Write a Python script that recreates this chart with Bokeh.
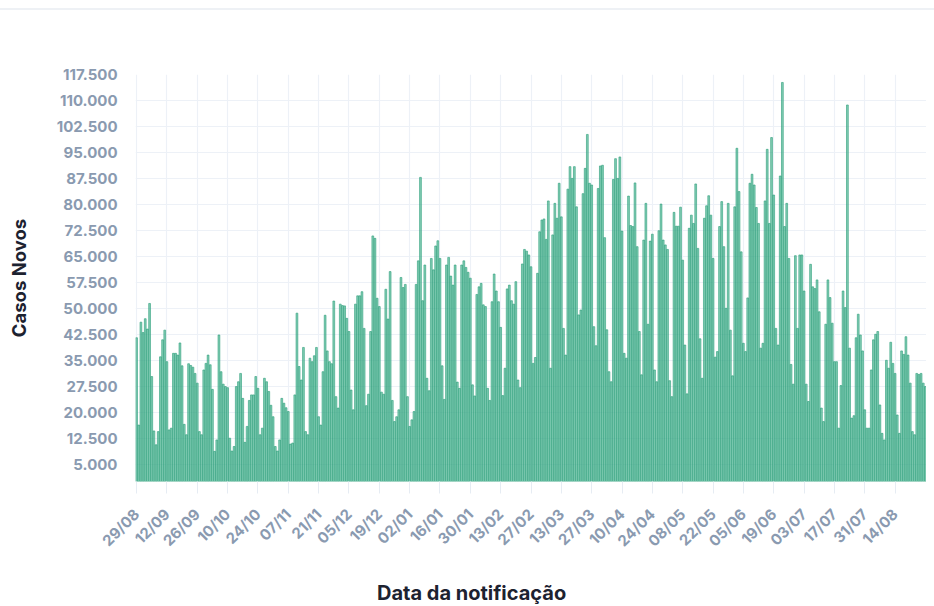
import math
import pandas as pd
from bokeh.plotting import figure
from bokeh.models import FixedTicker, ColumnDataSource, Div
from bokeh.layouts import column
from bokeh.embed import file_html
from bokeh.resources import INLINE

# ---------------- data ----------------
data_inicial = "2020-08-29"

casos_novos = [
    41500, 16300, 46000, 43000, 47000, 44000, 51400, 30300, 14600, 10600,
    14400, 36000, 40900, 43700, 34600, 14900, 15400, 37000, 37000, 36500,
    40000, 33400, 16500, 13500, 34000, 33500, 33000, 31200, 28400, 14400,
    13500, 32200, 34100, 36500, 33700, 26600, 8700, 12000, 42300, 31700,
    28100, 27400, 27100, 12500, 8800, 10100, 27400, 28800, 31200, 24000,
    11300, 15900, 23400, 25000, 25000, 30300, 26900, 13500, 15400, 29800,
    28800, 26000, 22000, 18700, 10100, 8800, 12000, 24000, 22600, 21300,
    20200, 10800, 11100, 25000, 48600, 33200, 29300, 38700, 14400, 13500,
    35600, 34600, 36300, 38700, 18700, 16300, 31700, 48000, 37700, 34600,
    34000, 52100, 24500, 21200, 51200, 50800, 50700, 47100, 43300, 26400,
    20700, 51200, 53600, 53600, 54800, 44200, 21900, 25200, 43300, 70900,
    70200, 52900, 50500, 25800, 25200, 55500, 46900, 60600, 23400, 17300,
    18700, 20700, 58900, 56000, 56900, 24500, 15900, 17800, 20200, 56900,
    63700, 87800, 52200, 62500, 29800, 26200, 64400, 61100, 68000, 69500,
    64400, 33400, 23700, 62500, 64700, 59300, 56700, 62500, 28700, 26900,
    62500, 63700, 61800, 60400, 58700, 27900, 24700, 54000, 56200, 57200,
    51000, 50500, 26900, 23400, 51900, 59900, 55000, 51900, 44500, 24800,
    32700, 55600, 56700, 52200, 51200, 57700, 29300, 27100, 62800, 67000,
    66500, 65400,
    62000, 34100, 35800, 60100, 72100, 75500, 75800, 69900, 81000, 32700,
    71200, 80300, 76000, 86100, 76400, 44200, 36500, 84400, 90900, 87500,
    90900, 79300, 48100, 49500, 83100, 90400, 100200, 86100, 85600, 44700,
    39200, 84600, 91100, 91300, 70400, 43800, 31700, 28800, 87200, 93200,
    87500, 93700, 72300, 37000, 35600, 82400, 73900, 73600, 86200, 67800,
    43300, 30800, 69700, 80300, 45400, 69400, 71400, 32200, 28800, 72400,
    80100, 69700, 68300, 67000, 29100, 24500, 77700, 73700, 73700, 79200,
    63900, 39400, 25300, 73100, 76900, 74500, 85900, 67300, 41200, 29800,
    76000, 79600, 82500, 76900, 64400, 35900, 37500, 73600, 80800, 67800,
    50000, 80300, 43700, 30500, 79300, 96200, 83700, 66300, 39900, 37500,
    53000, 86100, 88700, 85600, 79100, 74500, 38500, 39900, 81000, 95900,
    74500, 99300, 82700, 44200, 39400, 88200, 115200, 73600, 80300, 64400,
    33800, 28100, 65200, 44200, 65400, 65400, 55000, 28100, 23100, 62700,
    56200, 55700, 58200, 49000, 21200, 17300, 45400, 58200, 53100, 45700,
    34600, 34600, 15400, 27700, 55000, 50200, 108700, 38500, 18300, 19000,
    41500, 48300, 42300, 37700, 20700, 15400, 15400, 32200, 40900, 42500,
    43300, 22100, 13900, 12000, 35000, 32700, 40200, 34100, 31200, 19200,
    13900, 37700, 36700, 41800, 36500, 28400, 14400, 13500, 31200, 30900,
    31200, 28400, 27400,
]

rotulos_x = ["29/08", "12/09", "26/09", "10/10", "24/10", "07/11", "21/11",
             "05/12", "19/12", "02/01", "16/01", "30/01", "13/02", "27/02",
             "13/03", "27/03", "10/04", "24/04", "08/05", "22/05", "05/06",
             "19/06", "03/07", "17/07", "31/07", "14/08"]

ticks_y = [5000, 12500, 20000, 27500, 35000, 42500, 50000, 57500, 65000,
           72500, 80000, 87500, 95000, 102500, 110000, 117500]
rotulos_y = ["5.000", "12.500", "20.000", "27.500", "35.000", "42.500",
             "50.000", "57.500", "65.000", "72.500", "80.000", "87.500",
             "95.000", "102.500", "110.000", "117.500"]

titulo_x = "Data da notificação"
titulo_y = "Casos Novos"

# ---------------- build ----------------
datas = pd.date_range(data_inicial, periods=len(casos_novos), freq="D")
dia = list(range(len(casos_novos)))
dm = list(datas.strftime("%d/%m"))
pos_x = [dm.index(r) for r in rotulos_x]

src = ColumnDataSource(dict(dia=dia, casos=casos_novos))

p = figure(width=926, height=550, x_range=(-0.5, len(dia) - 0.5),
           y_range=(0, 117500), output_backend="svg", toolbar_location=None,
           min_border_left=135, min_border_right=0, min_border_top=64,
           min_border_bottom=77, outline_line_color=None,
           background_fill_color="white", border_fill_color="white")

p.vbar(x="dia", top="casos", width=0.82, source=src,
       fill_color="#3fb08b", fill_alpha=0.64,
       line_color="#2a9e78", line_width=0.6)

tick_color = "#8a9ab0"
font = "Inter"

p.xaxis.ticker = FixedTicker(ticks=pos_x)
p.xaxis.major_label_overrides = {x: r for x, r in zip(pos_x, rotulos_x)}
p.xaxis.major_label_orientation = math.pi / 4
p.xaxis.axis_line_color = None
p.xaxis.major_tick_line_color = "#e6ecf3"
p.xaxis.major_tick_out = 12
p.xaxis.major_tick_in = 0
p.xaxis.minor_tick_line_color = None
p.xaxis.major_label_standoff = 18

p.yaxis.ticker = FixedTicker(ticks=ticks_y)
p.yaxis.major_label_overrides = {y: r for y, r in zip(ticks_y, rotulos_y)}
p.yaxis.axis_line_color = None
p.yaxis.major_tick_line_color = None
p.yaxis.minor_tick_line_color = None
p.yaxis.major_label_standoff = 12

for ax in (p.xaxis[0], p.yaxis[0]):
    ax.major_label_text_color = tick_color
    ax.major_label_text_font = font
    ax.major_label_text_font_size = "15px"
    ax.major_label_text_font_style = "bold"

p.yaxis.axis_label = titulo_y
p.yaxis.axis_label_text_font = font
p.yaxis.axis_label_text_font_style = "bold"
p.yaxis.axis_label_text_font_size = "18.5px"
p.yaxis.axis_label_text_color = "#1d2230"
p.yaxis.axis_label_standoff = 24

p.xgrid.grid_line_color = "#edf1f7"
p.ygrid.grid_line_color = "#edf1f7"
p.xgrid.grid_line_width = 1.2
p.ygrid.grid_line_width = 1.2

# x-axis title as a text block under the chart
rotulo_x_div = Div(
    text=('<div style="position:relative; left:372px; top:17px; '
          'font-family:Inter, sans-serif; font-weight:bold; font-size:20px; '
          'line-height:22px; color:#1d2230; white-space:nowrap;">'
          + titulo_x + '</div>'),
    width=926, height=46)

layout = column(p, rotulo_x_div, spacing=0,
                styles={"margin-top": "8px", "border-top": "2px solid #eef1f5"})

open("out.html", "w").write(file_html(layout, INLINE))
